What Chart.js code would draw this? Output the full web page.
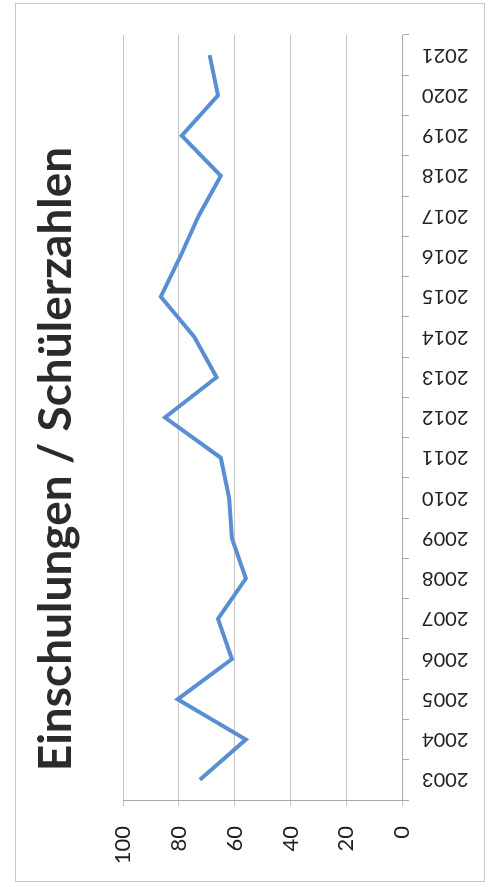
<!DOCTYPE html>
<html>
<head>
<meta charset="utf-8">
<script src="https://cdn.jsdelivr.net/npm/chart.js@4/dist/chart.umd.min.js"></script>
<style>
  html, body { margin: 0; padding: 0; background: #fff; }
  #wrap { position: relative; width: 493px; height: 887px; }
  #frame { position: absolute; left: 15px; top: 3px; width: 470px; height: 879px;
           border: 1px solid #c9c9c9; box-sizing: border-box; pointer-events: none; }
</style>
</head>
<body>
<div id="wrap">
  <canvas id="chart" width="493" height="887"></canvas>
  <div id="frame"></div>
</div>
<script>
// years (category axis, right side)
var years = ["2003","2004","2005","2006","2007","2008","2009","2010","2011","2012",
             "2013","2014","2015","2016","2017","2018","2019","2020","2021"];
// Einschulungen per year
var einschulungen = [72.5, 56, 80.5, 61, 66, 56, 61, 62, 65, 85,
                     66.5, 74.5, 86.5, 79.5, 73, 65, 79, 66, 69];
var titleText = "Einschulungen / Schülerzahlen";
var valueMin = 0, valueMax = 100, valueStep = 20;

var ctx = document.getElementById("chart");

var data1 = {
  labels : years,
  datasets : [
    {
      label : "Einschulungen",
      data : einschulungen,
      borderColor : "#5a8ed2",
      backgroundColor : "#5a8ed2",
      borderWidth : 4,
      fill : false,
      tension : 0,
      pointRadius : 0
    }
  ]
};

var options = {
  indexAxis : "y",
  responsive : false,
  animation : false,
  layout : { padding : { left : 20, right : 8, top : 35, bottom : 4 } },
  plugins : {
    legend : { display : false },
    tooltip : { enabled : false },
    title : {
      display : true,
      position : "left",
      text : titleText,
      color : "#2b2b2b",
      font : { family : "Lato", size : 46, weight : "bold" },
      padding : { top : 9, bottom : 39 }
    }
  },
  scales : {
    x : {
      type : "linear",
      position : "bottom",
      reverse : true,
      min : valueMin,
      max : valueMax,
      ticks : {
        stepSize : valueStep,
        minRotation : 90,
        maxRotation : 90,
        padding : 20,
        color : "#222",
        font : { family : "Lato", size : 22 }
      },
      grid : { color : "#c4c4c4", lineWidth : 1, tickLength : 6 },
      border : { display : true, color : "#a8a8a8" },
      afterFit : function(scale) { scale.height = 83; }
    },
    y : {
      type : "category",
      position : "right",
      reverse : true,
      offset : true,
      ticks : {
        autoSkip : false,
        minRotation : 180,
        maxRotation : 180,
        crossAlign : "center",
        padding : 13,
        color : "#222",
        font : { family : "Lato", size : 20 }
      },
      grid : { drawOnChartArea : false, color : "#a8a8a8", tickLength : 7, offset : true },
      border : { display : true, color : "#a8a8a8" },
      afterFit : function(scale) { scale.width = 83; }
    }
  }
};

var chart = new Chart(ctx, {
  type : "line",
  data : data1,
  options : options
});
</script>
</body>
</html>
